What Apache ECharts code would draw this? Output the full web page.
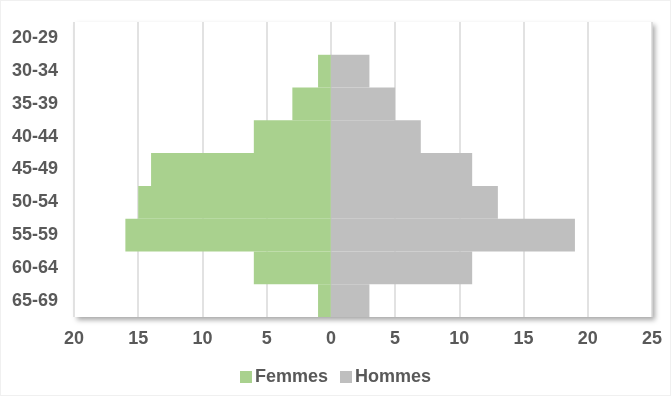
<!DOCTYPE html>
<html><head><meta charset="utf-8">
<script src="https://cdn.jsdelivr.net/npm/echarts@6/dist/echarts.min.js"></script>
<style>html,body{margin:0;padding:0;background:#fff}#c{width:671px;height:396px;box-sizing:border-box;border:1px solid #f0f0f0}</style>
</head><body><div id="c"></div>
<script>
const categories = ['20-29','30-34','35-39','40-44','45-49','50-54','55-59','60-64','65-69'];
const femmes = [0,1,3,6,14,15,16,6,1];
const hommes = [0,3,5,7,11,13,19,11,3];
const xTicks = {min:-20, max:25, interval:5};

const chart = echarts.init(document.getElementById('c'));
const txt = {color:'#595959', fontFamily:'"Liberation Sans", Arial, sans-serif', fontWeight:'bold', fontSize:18};
chart.setOption({
  animation:false,
  grid:{left:73, right:18, top:21, bottom:78, show:true, backgroundColor:'#fff', borderWidth:0,
        shadowColor:'rgba(0,0,0,0.35)', shadowBlur:5, shadowOffsetX:3, shadowOffsetY:3},
  legend:{bottom:4, left:'center', itemWidth:12, itemHeight:12, itemGap:12, icon:'rect',
          textStyle:Object.assign({}, txt, {padding:[0,0,0,-2]}), data:['Femmes','Hommes']},
  xAxis:{type:'value', min:xTicks.min, max:xTicks.max, interval:xTicks.interval,
         axisLine:{show:false}, axisTick:{show:false},
         splitLine:{lineStyle:{color:'#d9d9d9', width:1.5}},
         axisLabel:Object.assign({}, txt, {margin:13, formatter:v=>Math.abs(v)})},
  yAxis:{type:'category', data:categories, inverse:true,
         axisLine:{show:false}, axisTick:{show:false},
         axisLabel:Object.assign({}, txt, {margin:16})},
  series:[
    {name:'Femmes', type:'bar', data:femmes.map(v=>-v), barGap:'-100%', barCategoryGap:'0%',
     itemStyle:{color:'#a9d18e'}},
    {name:'Hommes', type:'bar', data:hommes, barGap:'-100%', barCategoryGap:'0%',
     itemStyle:{color:'#bfbfbf'}}
  ]
});
</script></body></html>
